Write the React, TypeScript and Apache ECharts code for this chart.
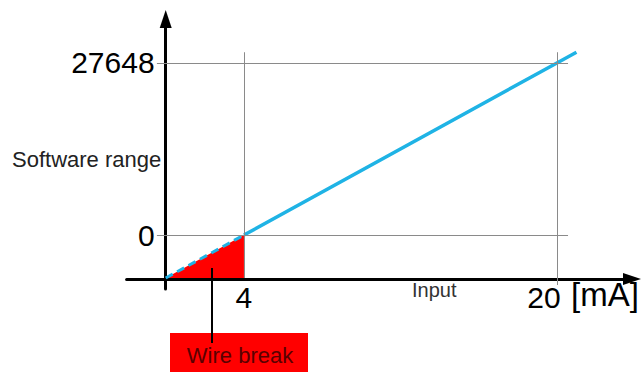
import { useEffect, useRef } from "react";
import * as echarts from "echarts";

// Characteristic: input current [mA] -> software value
const inputMA = [0, 4, 20, 21];
const softwareValue = [-6912, 0, 27648, 29376];
// tick labels
const yTickValues = [0, 27648];
const xTickValues = [4, 20];
// wire-break region (triangle below 4 mA)
const wireBreakX = [0, 4, 4];
const wireBreakY = [-6912, 0, -6912];
// guide lines
const guideXs = [4, 20];
const guideYs = [0, 27648];

export default function App() {
  const ref = useRef<HTMLDivElement>(null);
  useEffect(() => {
    document.body.style.margin = "0";
    const chart = echarts.init(ref.current!, null, { renderer: "svg" });
    const font = "'Liberation Sans', Arial, Helvetica, sans-serif";
    const dashed = inputMA.slice(0, 2).map((x, i) => [x, softwareValue[i]]);
    const solid = inputMA.slice(1).map((x, i) => [x, softwareValue[i + 1]]);
    const triangle = wireBreakX.map((x, i) => [x, wireBreakY[i]]);
    const top = softwareValue[softwareValue.length - 1];
    const xEnd = 20.57;
    const xStart = -0.45;
    const guideData: any[] = [];
    guideYs.forEach((y) => guideData.push([{ coord: [xStart, y] }, { coord: [xEnd, y] }]));
    guideData.push([{ coord: [guideXs[0], top] }, { coord: [guideXs[0], wireBreakY[0]] }]);
    guideData.push([{ coord: [guideXs[1], top] }, { coord: [guideXs[1], -8040] }]);

    chart.setOption({
      animation: false,
      grid: { left: 126.6, right: 10, top: 19, bottom: 83 },
      xAxis: {
        type: "value",
        min: -2,
        max: 23.84,
        offset: -10,
        axisLine: {
          onZero: false,
          lineStyle: { color: "#000", width: 3 },
          symbol: ["none", "triangle"],
          symbolSize: [12, 18],
        },
        axisTick: { show: false },
        splitLine: { show: false },
        axisLabel: {
          customValues: xTickValues,
          margin: 3,
          fontSize: 30,
          color: "#000",
          fontFamily: font,
          formatter: (v: number) => (v === 20 ? "{s|20}" : String(v)),
          rich: {
            s: { fontSize: 30, fontFamily: font, color: "#000", padding: [0, 26, 0, 0] },
          },
        },
      },
      yAxis: {
        type: "value",
        min: -8680,
        max: 34720,
        axisLine: {
          onZero: true,
          lineStyle: { color: "#000", width: 3 },
          symbol: ["none", "triangle"],
          symbolSize: [12, 18],
        },
        axisTick: { show: false },
        splitLine: { show: false },
        axisLabel: {
          customValues: yTickValues,
          margin: -28,
          fontSize: 30,
          color: "#000",
          fontFamily: font,
          formatter: (v: number) => String(v),
        },
      },
      series: [
        {
          type: "line",
          data: [],
          z: 1,
          silent: true,
          markLine: {
            silent: true,
            symbol: ["none", "none"],
            label: { show: false },
            lineStyle: { color: "#8a8a8a", width: 1, type: "solid" },
            data: guideData,
          },
        },
        {
          type: "custom",
          z: 2,
          silent: true,
          data: [[0, 0]],
          renderItem: (_p: any, api: any) => ({
            type: "polygon",
            shape: { points: triangle.map((p) => api.coord(p)) },
            style: { fill: "#ff0000" },
          }),
        },
        {
          type: "line",
          z: 3,
          data: dashed,
          showSymbol: false,
          lineStyle: { color: "#1fb3e5", width: 3, type: [8, 5] },
        },
        {
          type: "line",
          z: 3,
          data: solid,
          showSymbol: false,
          lineStyle: { color: "#1fb3e5", width: 3.5 },
        },
      ],
      graphic: [
        {
          type: "text",
          z: 10,
          left: 12,
          top: 148,
          style: { text: "Software range", font: `22px ${font}`, fill: "#222" },
        },
        {
          type: "text",
          z: 10,
          left: 412,
          top: 280,
          style: { text: "Input", font: `20px ${font}`, fill: "#333" },
        },
        {
          type: "text",
          z: 10,
          left: 571,
          top: 278,
          style: { text: "[mA]", font: `33px ${font}`, fill: "#000" },
        },
        {
          type: "rect",
          z: 10,
          shape: { x: 170, y: 333, width: 138, height: 45 },
          style: { fill: "#ff0000" },
        },
        {
          type: "line",
          z: 11,
          shape: { x1: 212, y1: 268, x2: 212, y2: 343 },
          style: { stroke: "#000", lineWidth: 2 },
        },
        {
          type: "text",
          z: 12,
          x: 240,
          y: 355,
          style: {
            text: "Wire break",
            font: `22px ${font}`,
            fill: "#5a0000",
            align: "center",
            verticalAlign: "middle",
          },
        },
      ],
    });
    return () => chart.dispose();
  }, []);
  return (
    <div
      ref={ref}
      style={{ position: "absolute", left: 0, top: 0, width: 642, height: 372 }}
    />
  );
}
